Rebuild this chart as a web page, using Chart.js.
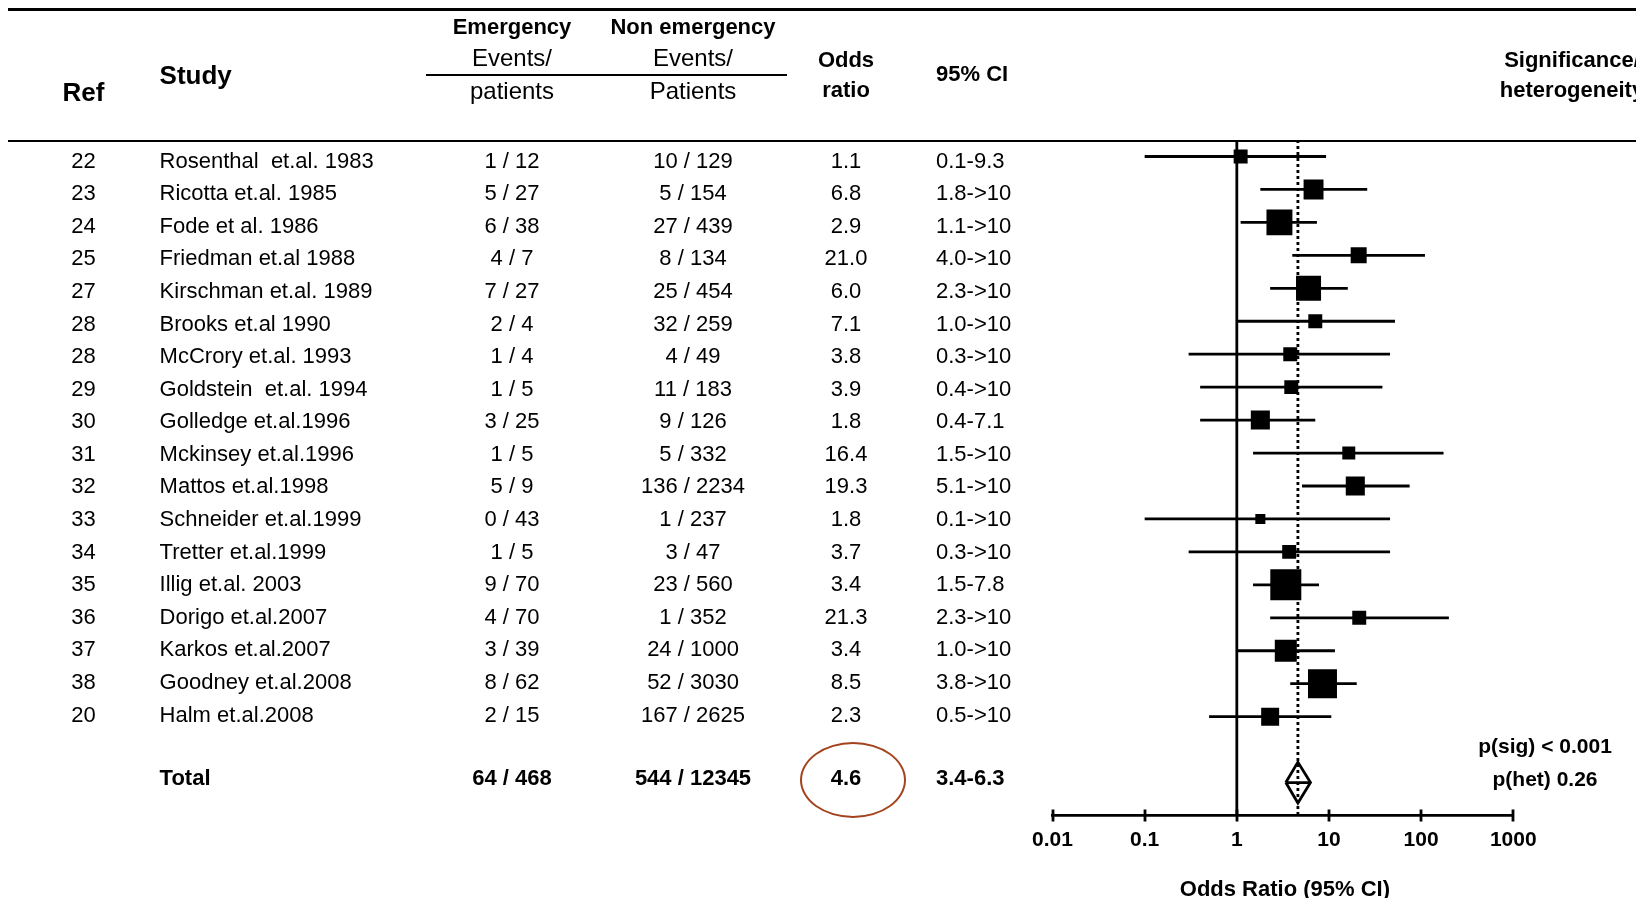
<!DOCTYPE html>
<html>
<head>
<meta charset="utf-8">
<title>Odds ratio forest plot: emergency vs non emergency</title>
<script src="https://cdn.jsdelivr.net/npm/chart.js@4.4.1/dist/chart.umd.min.js"></script>
<style>
  html, body { margin: 0; padding: 0; background: #fff; width: 1636px; height: 898px; overflow: hidden; }
  #wrap { position: relative; width: 1636px; height: 898px; overflow: hidden; }
  #forest { position: absolute; left: 0; top: 0; }
  .t { position: absolute; white-space: pre; font-family: "Liberation Sans", Arial, sans-serif; color: #000; line-height: 1; }
  .c { transform: translate(-50%, -50%); }
  .l { transform: translate(0, -50%); }
  .b { font-weight: bold; }
  .rule { position: absolute; background: #000; }
  #mark { position: absolute; border: 2.5px solid #a3421c; border-radius: 50%; box-sizing: border-box; }
</style>
</head>
<body>
<div id="wrap">
  <canvas id="forest" width="1636" height="898"></canvas>
</div>
<script>
// ---- study table ----
const refs = ['22','23','24','25','27','28','28','29','30','31','32','33','34','35','36','37','38','20'];
const studies = ['Rosenthal  et.al. 1983','Ricotta et.al. 1985','Fode et al. 1986','Friedman et.al 1988',
  'Kirschman et.al. 1989','Brooks et.al 1990','McCrory et.al. 1993','Goldstein  et.al. 1994',
  'Golledge et.al.1996','Mckinsey et.al.1996','Mattos et.al.1998','Schneider et.al.1999',
  'Tretter et.al.1999','Illig et.al. 2003','Dorigo et.al.2007','Karkos et.al.2007',
  'Goodney et.al.2008','Halm et.al.2008'];
const emergency = ['1 / 12','5 / 27','6 / 38','4 / 7','7 / 27','2 / 4','1 / 4','1 / 5','3 / 25',
  '1 / 5','5 / 9','0 / 43','1 / 5','9 / 70','4 / 70','3 / 39','8 / 62','2 / 15'];
const nonEmergency = ['10 / 129','5 / 154','27 / 439','8 / 134','25 / 454','32 / 259','4 / 49',
  '11 / 183','9 / 126','5 / 332','136 / 2234','1 / 237','3 / 47','23 / 560','1 / 352',
  '24 / 1000','52 / 3030','167 / 2625'];
const oddsRatio = [1.1, 6.8, 2.9, 21.0, 6.0, 7.1, 3.8, 3.9, 1.8, 16.4, 19.3, 1.8, 3.7, 3.4, 21.3, 3.4, 8.5, 2.3];
const ciLabels = ['0.1-9.3','1.8->10','1.1->10','4.0->10','2.3->10','1.0->10','0.3->10','0.4->10',
  '0.4-7.1','1.5->10','5.1->10','0.1->10','0.3->10','1.5-7.8','2.3->10','1.0->10','3.8->10','0.5->10'];
const ciLower = [0.1, 1.8, 1.1, 4.0, 2.3, 1.0, 0.3, 0.4, 0.4, 1.5, 5.1, 0.1, 0.3, 1.5, 2.3, 1.0, 3.8, 0.5];
const ciUpper = [9.3, 26, 7.4, 110, 16, 52, 46, 38, 7.1, 175, 75, 46, 46, 7.8, 200, 11.6, 20, 10.6];
// relative study weights (%), shown as the area of each square
const weights = [2.9, 5.9, 10.0, 3.8, 9.3, 2.9, 2.9, 2.9, 5.4, 2.5, 5.4, 1.5, 2.9, 14.3, 2.9, 7.2, 12.5, 4.8];

// ---- pooled estimate ----
const totalLabel = 'Total';
const totalEmergency = '64 / 468';
const totalNonEmergency = '544 / 12345';
const totalOddsRatio = 4.6;
const totalCiLower = 3.4;
const totalCiUpper = 6.3;
const totalCiLabel = '3.4-6.3';
const pSig = 'p(sig) < 0.001';
const pHet = 'p(het) 0.26';

// ---- axis ----
const axisTicks = [0.01, 0.1, 1, 10, 100, 1000];
const axisTickLabels = ['0.01', '0.1', '1', '10', '100', '1000'];
const axisTitle = 'Odds Ratio (95% CI)';

// ---- drawing ----
const FONT = '"Liberation Sans", Arial, sans-serif';
const INK = '#000';
const LINE_W = 2.8;
const totalRow = studies.length + 1;   // one blank row before the pooled line
const diamondHalf = 0.62;              // half height of the pooled diamond, in rows
const squareSide = w => 8.2 * Math.sqrt(w);

const seg = (a, b) => ({
  data: [a, b], showLine: true, pointRadius: 0, borderColor: INK,
  borderWidth: LINE_W, borderCapStyle: 'butt', fill: false
});

const datasets = [];
// confidence interval whiskers
studies.forEach((s, i) => {
  datasets.push(seg({x: ciLower[i], y: i}, {x: ciUpper[i], y: i}));
});
// line of no effect
datasets.push(seg({x: 1, y: -0.5}, {x: 1, y: 20}));
// pooled estimate reference (dotted)
datasets.push(Object.assign(seg({x: totalOddsRatio, y: -0.5}, {x: totalOddsRatio, y: 20}),
  {borderDash: [3, 3]}));
// pooled diamond
datasets.push({
  data: [
    {x: totalCiLower, y: totalRow},
    {x: totalOddsRatio, y: totalRow - diamondHalf},
    {x: totalCiUpper, y: totalRow},
    {x: totalOddsRatio, y: totalRow + diamondHalf},
    {x: totalCiLower, y: totalRow}
  ],
  showLine: true, pointRadius: 0, borderColor: INK, borderWidth: LINE_W,
  borderJoinStyle: 'miter', fill: false
});
datasets.push(seg({x: totalCiLower, y: totalRow}, {x: totalCiUpper, y: totalRow}));
// study point estimates, square area ~ weight
datasets.push({
  data: oddsRatio.map((v, i) => ({x: v, y: i})),
  pointStyle: 'rect',
  pointRadius: weights.map(w => squareSide(w) / Math.SQRT2),
  pointHoverRadius: weights.map(w => squareSide(w) / Math.SQRT2),
  pointBackgroundColor: INK,
  pointBorderWidth: 0,
  showLine: false
});

const tickMarks = {
  id: 'tickMarks',
  afterDraw(chart) {
    const {ctx, chartArea, scales: {x}} = chart;
    ctx.save();
    ctx.strokeStyle = INK;
    ctx.lineWidth = LINE_W;
    axisTicks.forEach(v => {
      const px = Math.round(x.getPixelForValue(v));
      ctx.beginPath();
      ctx.moveTo(px, chartArea.bottom - 6);
      ctx.lineTo(px, chartArea.bottom + 6);
      ctx.stroke();
    });
    ctx.restore();
  }
};

const chart = new Chart(document.getElementById('forest'), {
  type: 'scatter',
  data: { datasets },
  options: {
    responsive: false,
    animation: false,
    devicePixelRatio: 1,
    events: [],
    layout: { padding: { left: 1052.5, right: 122.7, top: 140, bottom: 22.5 } },
    plugins: { legend: { display: false }, tooltip: { enabled: false } },
    scales: {
      x: {
        type: 'logarithmic',
        position: 'bottom',
        min: 0.01,
        max: 1000,
        afterBuildTicks: s => { s.ticks = axisTicks.map(v => ({ value: v })); },
        afterFit: s => { s.height = 60; },
        grid: { display: false, drawTicks: false },
        border: { display: true, color: INK, width: LINE_W },
        ticks: {
          autoSkip: false, maxRotation: 0, padding: 12, color: INK,
          font: { family: FONT, size: 21, weight: 'bold' },
          callback: (v, i) => axisTickLabels[i]
        }
      },
      y: { type: 'linear', reverse: true, min: -0.5, max: 20, display: false }
    }
  },
  plugins: [tickMarks]
});

// ---- text table laid out on the chart's row scale ----
const wrap = document.getElementById('wrap');
function text(str, x, y, opts) {
  const d = document.createElement('div');
  d.className = 't ' + (opts.align === 'left' ? 'l' : 'c') + (opts.bold ? ' b' : '');
  d.style.left = x + 'px';
  d.style.top = y + 'px';
  d.style.fontSize = (opts.size || 22) + 'px';
  d.textContent = str;
  wrap.appendChild(d);
  return d;
}
function rule(x1, x2, y, h) {
  const d = document.createElement('div');
  d.className = 'rule';
  d.style.left = x1 + 'px';
  d.style.width = (x2 - x1) + 'px';
  d.style.top = (y - h / 2) + 'px';
  d.style.height = h + 'px';
  wrap.appendChild(d);
}

const col = { ref: 83.5, study: 159.6, emg: 512, non: 693, or: 846, ci: 936, sig: 1572, pv: 1545 };
const yS = chart.scales.y;
const xS = chart.scales.x;
const area = chart.chartArea;

// header
rule(8, 1636, 9.5, 3);
rule(8, 1636, area.top + 1, 2.6);
rule(426, 787, 75, 2.2);
text('Ref', col.ref, 92, { bold: true, size: 26 });
text('Study', col.study, 75, { bold: true, size: 26, align: 'left' });
text('Emergency', col.emg, 27, { bold: true });
text('Events/', col.emg, 58, { size: 24 });
text('patients', col.emg, 91, { size: 24 });
text('Non emergency', col.non, 27, { bold: true });
text('Events/', col.non, 58, { size: 24 });
text('Patients', col.non, 91, { size: 24 });
text('Odds', col.or, 59.5, { bold: true });
text('ratio', col.or, 90, { bold: true });
text('95% CI', col.ci, 74, { bold: true, align: 'left' });
text('Significance/', col.sig, 59.5, { bold: true });
text('heterogeneity', col.sig, 90, { bold: true });

// study rows: the printed table runs on a slightly tighter pitch than the plot rows
const textTop = yS.getPixelForValue(0) + 4.2;
const textBottom = yS.getPixelForValue(studies.length - 1) - 2.1;
const textPitch = (textBottom - textTop) / (studies.length - 1);
studies.forEach((s, i) => {
  const y = textTop + i * textPitch;
  text(refs[i], col.ref, y, {});
  text(s, col.study, y, { align: 'left' });
  text(emergency[i], col.emg, y, {});
  text(nonEmergency[i], col.non, y, {});
  text(oddsRatio[i].toFixed(1), col.or, y, {});
  text(ciLabels[i], col.ci, y, { align: 'left' });
});

// pooled row
const yt = yS.getPixelForValue(totalRow) - 5;
text(totalLabel, col.study, yt, { bold: true, align: 'left' });
text(totalEmergency, col.emg, yt, { bold: true });
text(totalNonEmergency, col.non, yt, { bold: true });
text(totalOddsRatio.toFixed(1), col.or, yt, { bold: true });
text(totalCiLabel, col.ci, yt, { bold: true, align: 'left' });
text(pSig, col.pv, yt - 33, { bold: true, size: 21 });
text(pHet, col.pv, yt, { bold: true, size: 21 });

// highlight ring around the pooled odds ratio
const ring = document.createElement('div');
ring.id = 'mark';
ring.style.width = '106px';
ring.style.height = '76px';
ring.style.left = (852.5 - 53) + 'px';
ring.style.top = (yt + 2 - 38) + 'px';
wrap.appendChild(ring);

// axis title
text(axisTitle, (xS.left + xS.right) / 2 + 2, 889, { bold: true, size: 22 });
</script>
</body>
</html>
